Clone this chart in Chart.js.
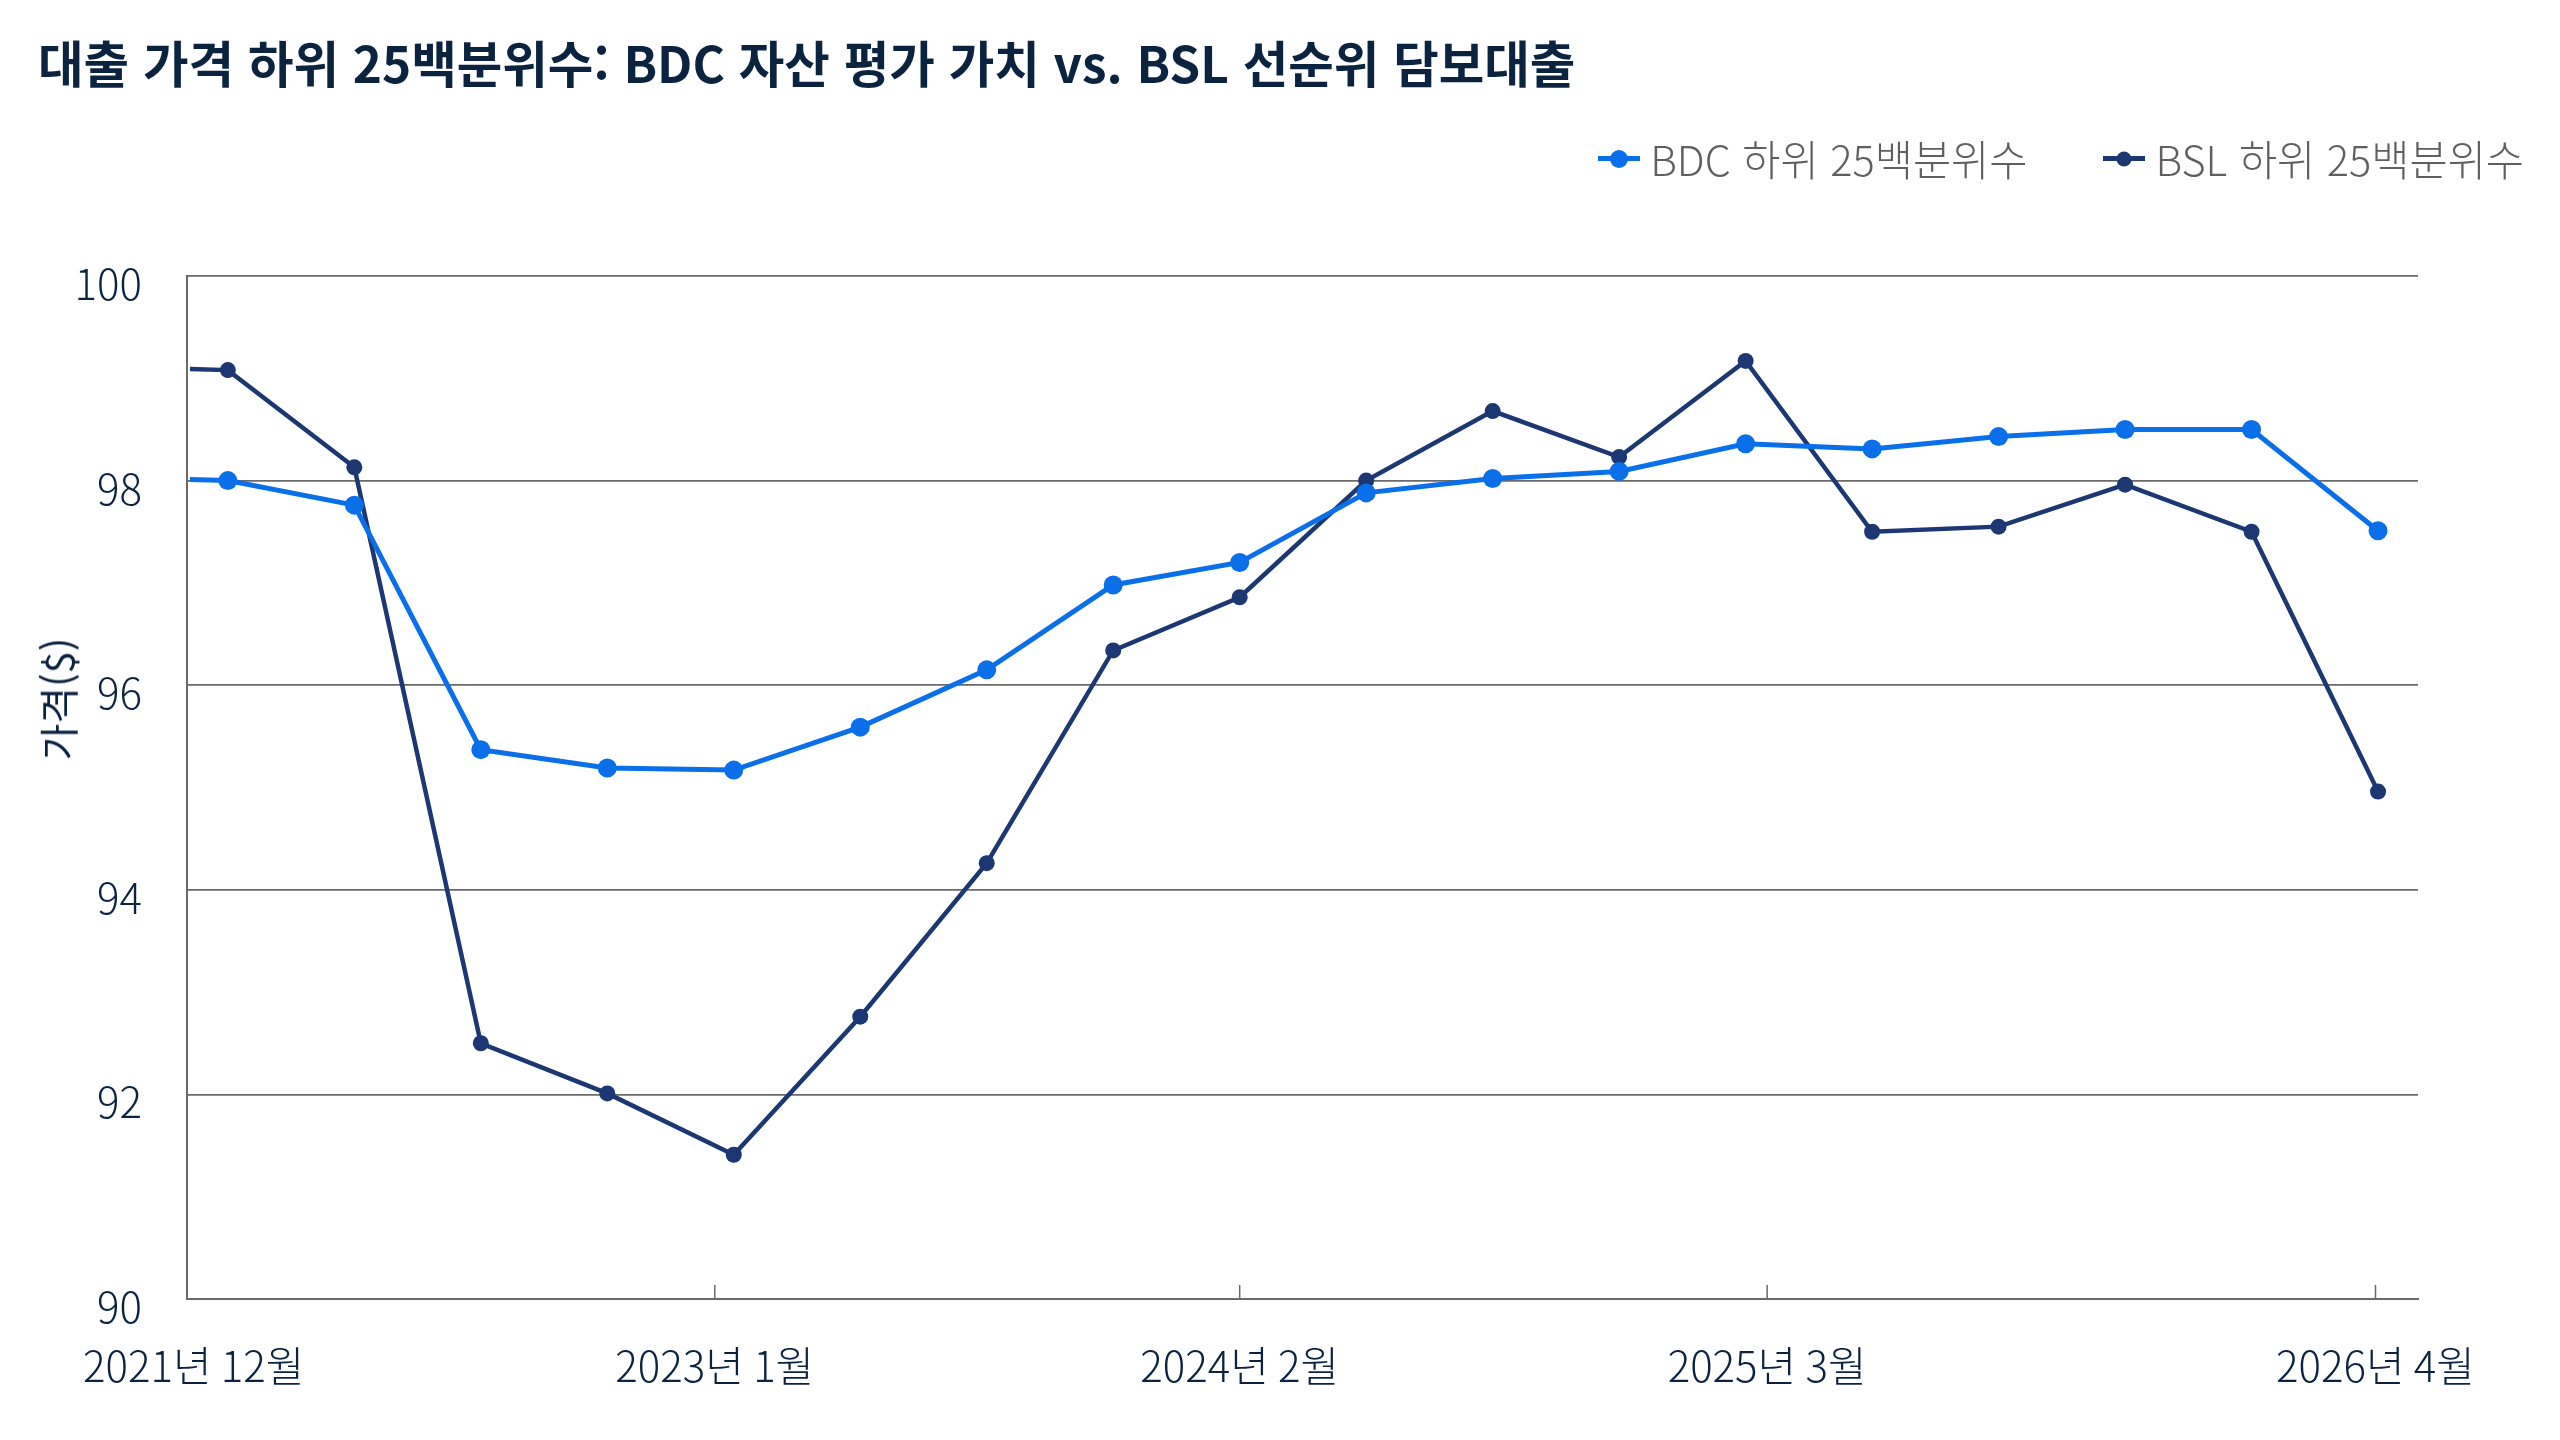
<!DOCTYPE html>
<html lang="ko">
<head>
<meta charset="utf-8">
<title>대출 가격 하위 25백분위수</title>
<script src="https://cdn.jsdelivr.net/npm/chart.js@4.4.1/dist/chart.umd.min.js"></script>
<style>
  html, body { margin: 0; padding: 0; background: #fff; }
  body { font-family: 'Noto Sans CJK KR', 'Noto Sans', sans-serif; }
  #wrap { position: relative; width: 2560px; height: 1440px; overflow: hidden; }
  #chart { position: absolute; left: 0; top: 0; }
  #title { position: absolute; left: 38px; top: 37px; margin: 0; font-size: 49.5px; font-weight: 700; line-height: 1; color: #0c2340; white-space: nowrap; }
  #legend { position: absolute; right: 36px; top: 138px; display: flex; align-items: center; gap: 76px; font-size: 41.5px; font-weight: 300; color: #5f5f5f; line-height: 1; }
  .item { display: flex; align-items: center; gap: 10px; }
  .mark { position: relative; width: 42px; height: 20px; }
  .mark .bar { position: absolute; left: 0; right: 0; top: 50%; height: 5px; margin-top: -2.5px; }
  .mark .dot { position: absolute; left: 50%; top: 50%; border-radius: 50%; transform: translate(-50%, -50%); }
  #ytitle { position: absolute; left: 57px; top: 699px; transform: translate(-50%, -50%) rotate(-90deg); font-size: 40px; font-weight: 400; color: #0c2340; white-space: nowrap; line-height: 1; }
</style>
</head>
<body>
<div id="wrap">
  <canvas id="chart" width="2560" height="1440"></canvas>
  <h1 id="title">대출 가격 하위 25백분위수: BDC 자산 평가 가치 vs. BSL 선순위 담보대출</h1>
  <div id="legend"></div>
  <div id="ytitle">가격($)</div>
</div>
<script>
// x position of each observation (0 = first marked point, one step per period)
var pointIndex = [-0.3, 0, 1, 2, 3, 4, 5, 6, 7, 8, 9, 10, 11, 12, 13, 14, 15, 16, 17];

var bdcValues = [98.01, 98.00, 97.76, 95.37, 95.19, 95.17, 95.59, 96.15, 96.98, 97.20, 97.88, 98.02, 98.09, 98.36, 98.31, 98.43, 98.50, 98.50, 97.51];
var bslValues = [99.09, 99.08, 98.13, 92.50, 92.01, 91.41, 92.76, 94.26, 96.34, 96.86, 98.00, 98.68, 98.23, 99.17, 97.50, 97.55, 97.96, 97.50, 94.96];

var tickLabels = ['2021년 12월', '2023년 1월', '2024년 2월', '2025년 3월', '2026년 4월'];
var tickPositions = [-0.27, 3.85, 8.0, 12.17, 16.98];

var seriesNames = ['BDC 하위 25백분위수', 'BSL 하위 25백분위수'];

var bdcColor = '#0a6fe9';
var bslColor = '#1c3771';
var gridColor = '#6a6a6a';
var textColor = '#0c2340';

Chart.defaults.font.family = "'Noto Sans CJK KR', 'Noto Sans', sans-serif";

// html legend
var legend = document.getElementById('legend');
[[seriesNames[0], bdcColor, 18], [seriesNames[1], bslColor, 15]].forEach(function(s) {
  var item = document.createElement('div');
  item.className = 'item';
  item.innerHTML = '<span class="mark"><span class="bar"></span><span class="dot"></span></span><span></span>';
  item.querySelector('.bar').style.background = s[1];
  var dot = item.querySelector('.dot');
  dot.style.background = s[1];
  dot.style.width = s[2] + 'px';
  dot.style.height = s[2] + 'px';
  item.lastChild.textContent = s[0];
  legend.appendChild(item);
});

function toPoints(values) {
  return values.map(function(v, i) {
    return { x: pointIndex[i], y: v };
  });
}

// small tick marks drawn upward from the x axis
var innerTicks = {
  id: 'innerTicks',
  beforeDatasetsDraw: function(chart) {
    var ctx = chart.ctx, area = chart.chartArea, x = chart.scales.x;
    ctx.save();
    ctx.strokeStyle = gridColor;
    ctx.lineWidth = 1.5;
    tickPositions.slice(1).forEach(function(v) {
      var px = x.getPixelForValue(v);
      ctx.beginPath();
      ctx.moveTo(px, area.bottom);
      ctx.lineTo(px, area.bottom - 14);
      ctx.stroke();
    });
    ctx.restore();
  }
};

new Chart(document.getElementById('chart'), {
  type: 'line',
  data: {
    datasets: [
      {
        label: seriesNames[0],
        data: toPoints(bdcValues),
        borderColor: bdcColor,
        backgroundColor: bdcColor,
        borderWidth: 5,
        pointRadius: function(c) { return c.dataIndex === 0 ? 0 : 9.5; },
        pointBorderWidth: 0,
        pointHoverRadius: 9.5,
        tension: 0
      },
      {
        label: seriesNames[1],
        data: toPoints(bslValues),
        borderColor: bslColor,
        backgroundColor: bslColor,
        borderWidth: 4.5,
        pointRadius: function(c) { return c.dataIndex === 0 ? 0 : 8; },
        pointBorderWidth: 0,
        pointHoverRadius: 8,
        tension: 0
      }
    ]
  },
  options: {
    responsive: false,
    devicePixelRatio: 1,
    animation: false,
    layout: { padding: { top: 276, left: 36, right: 142, bottom: 0 } },
    plugins: {
      legend: { display: false },
      title: { display: false },
      tooltip: { enabled: false }
    },
    scales: {
      x: {
        type: 'linear',
        min: -0.323,
        max: 17.316,
        afterBuildTicks: function(scale) {
          scale.ticks = tickPositions.map(function(v) { return { value: v }; });
        },
        afterFit: function(scale) {
          scale.height = 141;
          scale.paddingLeft = 0;
          scale.paddingRight = 0;
        },
        grid: { display: false, drawTicks: false },
        border: { display: true, color: gridColor, width: 2 },
        ticks: {
          autoSkip: false,
          maxRotation: 0,
          padding: 42,
          color: textColor,
          font: { size: 42, weight: 300 },
          callback: function(v, i) { return tickLabels[i]; }
        }
      },
      y: {
        min: 90,
        max: 100,
        afterFit: function(scale) {
          scale.width = 151;
          scale.paddingTop = 0;
          scale.paddingBottom = 0;
        },
        grid: { color: gridColor, lineWidth: 1.7, drawTicks: false },
        border: { display: true, color: gridColor, width: 2 },
        ticks: {
          stepSize: 2,
          padding: 45,
          labelOffset: 8,
          color: textColor,
          font: { size: 42, weight: 300 }
        }
      }
    }
  },
  plugins: [innerTicks]
});
</script>
</body>
</html>
